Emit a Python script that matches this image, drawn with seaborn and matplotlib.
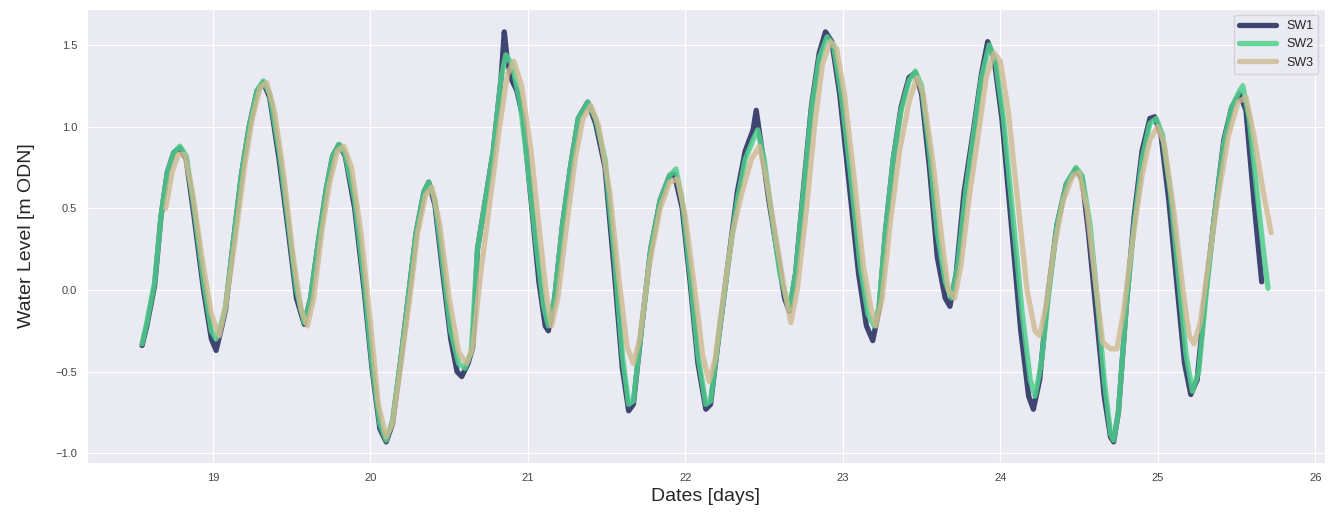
import matplotlib
matplotlib.use('Agg')
import matplotlib.pyplot as plt
import seaborn as sns

# graphs set-up
sns.set_style('darkgrid')
plt.rcParams['font.family'] = ['Liberation Sans', 'DejaVu Sans']

# water level readings (days, m ODN)
sw1_days = [18.55, 18.58, 18.63, 18.67, 18.71, 18.75, 18.79, 18.83, 18.88, 18.94, 18.99, 19.02,
            19.05, 19.08, 19.13, 19.18, 19.23, 19.28, 19.32, 19.36, 19.42, 19.48, 19.53, 19.58,
            19.62, 19.67, 19.72, 19.76, 19.80, 19.84, 19.90, 19.96, 20.01, 20.06, 20.10, 20.14,
            20.19, 20.24, 20.29, 20.34, 20.37, 20.41, 20.46, 20.51, 20.55, 20.58, 20.62, 20.65,
            20.68, 20.73, 20.78, 20.83, 20.85, 20.87, 20.90, 20.93, 20.97, 21.02, 21.07, 21.11,
            21.13, 21.17, 21.22, 21.27, 21.32, 21.38, 21.43, 21.49, 21.55, 21.60, 21.64, 21.67,
            21.72, 21.78, 21.84, 21.90, 21.93, 21.98, 22.03, 22.08, 22.13, 22.16, 22.21, 22.27,
            22.33, 22.38, 22.43, 22.45, 22.48, 22.53, 22.58, 22.63, 22.66, 22.70, 22.75, 22.80,
            22.85, 22.89, 22.93, 22.98, 23.04, 23.10, 23.15, 23.19, 23.23, 23.27, 23.32, 23.37,
            23.42, 23.46, 23.50, 23.55, 23.60, 23.65, 23.68, 23.72, 23.77, 23.83, 23.88, 23.92,
            23.96, 24.01, 24.07, 24.13, 24.18, 24.21, 24.25, 24.30, 24.36, 24.42, 24.48, 24.52,
            24.56, 24.61, 24.66, 24.70, 24.72, 24.75, 24.80, 24.85, 24.90, 24.95, 24.98, 25.02,
            25.07, 25.12, 25.17, 25.21, 25.25, 25.30, 25.36, 25.42, 25.47, 25.52, 25.56, 25.61,
            25.66]
sw1_level = [-0.34, -0.22, 0.03, 0.45, 0.72, 0.84, 0.87, 0.80, 0.45, 0.00, -0.30, -0.37,
             -0.25, -0.12, 0.30, 0.70, 1.00, 1.22, 1.27, 1.18, 0.80, 0.35, -0.05, -0.21,
             -0.05, 0.30, 0.62, 0.82, 0.89, 0.82, 0.50, 0.00, -0.48, -0.85, -0.93, -0.82,
             -0.45, -0.05, 0.35, 0.60, 0.66, 0.52, 0.10, -0.30, -0.50, -0.53, -0.45, -0.35,
             0.25, 0.55, 0.85, 1.30, 1.58, 1.40, 1.28, 1.22, 1.05, 0.55, 0.05, -0.22,
             -0.25, -0.05, 0.40, 0.75, 1.05, 1.15, 1.02, 0.75, 0.10, -0.48, -0.74, -0.70,
             -0.25, 0.25, 0.55, 0.70, 0.71, 0.50, 0.05, -0.45, -0.73, -0.70, -0.30, 0.15,
             0.60, 0.85, 0.98, 1.10, 0.90, 0.55, 0.25, -0.05, -0.13, 0.10, 0.62, 1.12,
             1.45, 1.58, 1.52, 1.20, 0.65, 0.10, -0.22, -0.31, -0.12, 0.35, 0.80, 1.12,
             1.30, 1.33, 1.20, 0.75, 0.20, -0.05, -0.10, 0.10, 0.60, 0.98, 1.32, 1.52,
             1.42, 1.05, 0.40, -0.25, -0.65, -0.73, -0.55, -0.05, 0.40, 0.65, 0.74, 0.68,
             0.35, -0.15, -0.65, -0.90, -0.93, -0.75, -0.10, 0.45, 0.85, 1.05, 1.06, 0.95,
             0.55, 0.05, -0.45, -0.64, -0.55, -0.05, 0.45, 0.92, 1.12, 1.20, 1.10, 0.55,
             0.05]

sw2_days = [18.55, 18.58, 18.63, 18.67, 18.71, 18.75, 18.79, 18.83, 18.88, 18.94, 18.99, 19.02,
            19.05, 19.08, 19.13, 19.18, 19.23, 19.28, 19.32, 19.36, 19.42, 19.48, 19.53, 19.58,
            19.62, 19.67, 19.72, 19.76, 19.80, 19.84, 19.90, 19.96, 20.01, 20.06, 20.10, 20.14,
            20.19, 20.24, 20.29, 20.34, 20.37, 20.41, 20.46, 20.51, 20.56, 20.60, 20.64, 20.68,
            20.73, 20.78, 20.83, 20.86, 20.90, 20.95, 21.00, 21.05, 21.10, 21.13, 21.17, 21.22,
            21.27, 21.32, 21.38, 21.43, 21.49, 21.55, 21.60, 21.64, 21.67, 21.72, 21.78, 21.84,
            21.90, 21.94, 21.98, 22.03, 22.08, 22.13, 22.16, 22.21, 22.27, 22.33, 22.38, 22.43,
            22.46, 22.50, 22.55, 22.60, 22.66, 22.70, 22.75, 22.80, 22.85, 22.90, 22.94, 22.99,
            23.05, 23.11, 23.16, 23.20, 23.23, 23.27, 23.32, 23.37, 23.42, 23.46, 23.50, 23.55,
            23.60, 23.65, 23.69, 23.73, 23.78, 23.83, 23.88, 23.93, 23.97, 24.02, 24.08, 24.14,
            24.19, 24.22, 24.26, 24.31, 24.36, 24.42, 24.48, 24.52, 24.57, 24.62, 24.66, 24.70,
            24.72, 24.75, 24.80, 24.85, 24.90, 24.95, 24.99, 25.03, 25.08, 25.13, 25.18, 25.22,
            25.26, 25.31, 25.36, 25.42, 25.47, 25.52, 25.54, 25.58, 25.63, 25.67, 25.70]
sw2_level = [-0.33, -0.20, 0.05, 0.45, 0.72, 0.84, 0.88, 0.82, 0.50, 0.05, -0.25, -0.30,
             -0.22, -0.10, 0.30, 0.70, 1.00, 1.22, 1.28, 1.20, 0.85, 0.40, 0.00, -0.20,
             -0.05, 0.30, 0.62, 0.82, 0.89, 0.83, 0.55, 0.05, -0.45, -0.82, -0.92, -0.80,
             -0.45, -0.05, 0.35, 0.60, 0.66, 0.55, 0.15, -0.25, -0.45, -0.48, -0.38, 0.25,
             0.55, 0.85, 1.30, 1.44, 1.38, 1.15, 0.75, 0.30, -0.10, -0.22, -0.05, 0.40,
             0.75, 1.05, 1.15, 1.05, 0.80, 0.20, -0.40, -0.70, -0.68, -0.25, 0.25, 0.55,
             0.70, 0.74, 0.55, 0.10, -0.40, -0.70, -0.68, -0.30, 0.15, 0.55, 0.80, 0.92,
             0.98, 0.80, 0.45, 0.10, -0.12, 0.10, 0.60, 1.10, 1.42, 1.55, 1.50, 1.20,
             0.70, 0.15, -0.15, -0.22, -0.10, 0.35, 0.80, 1.10, 1.28, 1.34, 1.25, 0.85,
             0.35, 0.05, -0.05, 0.15, 0.60, 0.95, 1.30, 1.50, 1.40, 1.05, 0.45, -0.15,
             -0.55, -0.65, -0.45, 0.00, 0.40, 0.65, 0.75, 0.70, 0.40, -0.10, -0.55, -0.88,
             -0.92, -0.75, -0.10, 0.40, 0.80, 1.02, 1.05, 0.95, 0.60, 0.10, -0.40, -0.62,
             -0.50, 0.00, 0.45, 0.90, 1.12, 1.22, 1.25, 1.05, 0.60, 0.25, 0.01]

sw3_days = [18.70, 18.74, 18.78, 18.82, 18.87, 18.93, 18.99, 19.04, 19.08, 19.14, 19.20, 19.25,
            19.30, 19.34, 19.39, 19.45, 19.51, 19.56, 19.60, 19.64, 19.69, 19.74, 19.79, 19.83,
            19.88, 19.94, 20.00, 20.05, 20.10, 20.14, 20.19, 20.25, 20.30, 20.35, 20.39, 20.44,
            20.50, 20.56, 20.61, 20.65, 20.70, 20.76, 20.82, 20.87, 20.91, 20.96, 21.02, 21.08,
            21.12, 21.15, 21.19, 21.24, 21.30, 21.35, 21.40, 21.45, 21.52, 21.58, 21.63, 21.67,
            21.71, 21.77, 21.84, 21.90, 21.95, 22.00, 22.06, 22.11, 22.15, 22.19, 22.24, 22.30,
            22.36, 22.42, 22.47, 22.51, 22.57, 22.63, 22.67, 22.71, 22.77, 22.82, 22.87, 22.92,
            22.96, 23.01, 23.07, 23.13, 23.18, 23.21, 23.25, 23.30, 23.36, 23.42, 23.47, 23.51,
            23.57, 23.63, 23.67, 23.71, 23.75, 23.80, 23.86, 23.91, 23.96, 24.00, 24.05, 24.11,
            24.17, 24.22, 24.25, 24.29, 24.34, 24.40, 24.46, 24.50, 24.55, 24.61, 24.65, 24.70,
            24.74, 24.78, 24.84, 24.90, 24.95, 25.00, 25.04, 25.10, 25.16, 25.20, 25.23, 25.27,
            25.32, 25.38, 25.45, 25.51, 25.56, 25.61, 25.67, 25.72]
sw3_level = [0.50, 0.72, 0.83, 0.83, 0.60, 0.20, -0.15, -0.28, -0.10, 0.30, 0.75, 1.05,
             1.24, 1.27, 1.10, 0.70, 0.20, -0.12, -0.22, -0.05, 0.35, 0.65, 0.85, 0.88,
             0.75, 0.35, -0.20, -0.70, -0.90, -0.82, -0.48, -0.05, 0.35, 0.58, 0.63, 0.40,
             -0.05, -0.38, -0.45, -0.35, 0.10, 0.55, 1.00, 1.32, 1.40, 1.25, 0.85, 0.30,
             -0.05, -0.22, -0.05, 0.35, 0.80, 1.05, 1.13, 1.00, 0.60, 0.05, -0.35, -0.45,
             -0.30, 0.15, 0.50, 0.66, 0.68, 0.45, 0.00, -0.40, -0.56, -0.42, -0.05, 0.35,
             0.60, 0.80, 0.88, 0.70, 0.35, 0.00, -0.20, 0.00, 0.50, 1.00, 1.38, 1.52,
             1.48, 1.20, 0.70, 0.15, -0.12, -0.22, -0.05, 0.40, 0.85, 1.15, 1.30, 1.20,
             0.80, 0.30, 0.00, -0.05, 0.15, 0.55, 0.95, 1.30, 1.45, 1.40, 1.10, 0.55,
             0.00, -0.25, -0.28, -0.10, 0.25, 0.55, 0.70, 0.72, 0.50, 0.00, -0.32, -0.36,
             -0.36, -0.15, 0.30, 0.70, 0.92, 1.00, 0.90, 0.50, 0.00, -0.28, -0.33, -0.20,
             0.15, 0.55, 0.95, 1.15, 1.18, 0.95, 0.60, 0.35]

colours = ['#3d4570', '#4fd08c', '#cfba90']

fig = plt.figure(figsize=(13.28, 5.14), dpi=100)
ax = fig.add_axes([0.0655, 0.099, 0.932, 0.8835])

sns.lineplot(x=sw1_days, y=sw1_level, ax=ax, color=colours[0], lw=3.8, label='SW1',
             sort=False, estimator=None)
sns.lineplot(x=sw2_days, y=sw2_level, ax=ax, color=colours[1], lw=3.8, alpha=0.85, label='SW2',
             sort=False, estimator=None)
sns.lineplot(x=sw3_days, y=sw3_level, ax=ax, color=colours[2], lw=3.8, alpha=0.8, label='SW3',
             sort=False, estimator=None)

ax.set_xlim(18.2, 26.06)
ax.set_ylim(-1.06, 1.72)
ax.set_xticks(range(19, 27))
ax.set_yticks([-1.0, -0.5, 0.0, 0.5, 1.0, 1.5])
ax.tick_params(labelsize=8, colors='#444444')
ax.set_xlabel('Dates [days]', fontsize=14, labelpad=4)
ax.set_ylabel('Water Level [m ODN]', fontsize=14, labelpad=15)
ax.legend(loc='upper right', fontsize=9, handlelength=3, frameon=True)

fig.savefig('out.png', dpi=100)
